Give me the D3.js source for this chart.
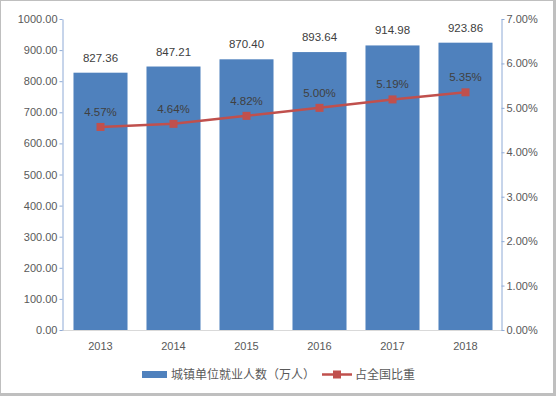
<!DOCTYPE html>
<html lang="zh">
<head>
<meta charset="UTF-8">
<script src="https://d3js.org/d3.v7.min.js"></script>
<title>城镇单位就业人数</title>
<style>
  body { margin: 0; background: #fff; }
  svg { display: block; }
</style>
</head>
<body>
<div id="chart"></div>
<script>
  // data
  var years = ["2013", "2014", "2015", "2016", "2017", "2018"];
  var employed = [827.36, 847.21, 870.40, 893.64, 914.98, 923.86];
  var share = [4.57, 4.64, 4.82, 5.00, 5.19, 5.35];
  var leftTicks = [0, 100, 200, 300, 400, 500, 600, 700, 800, 900, 1000];
  var rightTicks = [0, 1, 2, 3, 4, 5, 6, 7];
  var barName = "城镇单位就业人数（万人）";
  var lineName = "占全国比重";

  var W = 556, H = 396;
  var blue = "#4f81bd", red = "#c0504d", axisCol = "#8eaad6", txt = "#595959";
  var font = "'Liberation Sans', Arial, sans-serif";
  var cjk = "'Noto Sans CJK SC', sans-serif";

  var svg = d3.select("#chart").append("svg").attr("width", W).attr("height", H);

  // frame
  svg.append("rect").attr("x", 0).attr("y", 0).attr("width", W).attr("height", H).attr("fill", "#bfbfbf");
  svg.append("rect").attr("x", 1).attr("y", 1).attr("width", W - 4).attr("height", H - 4).attr("fill", "#fff");

  var x = d3.scaleBand().domain(years).range([64, 502]).paddingInner(0.26).paddingOuter(0.13);
  var yL = d3.scaleLinear().domain([0, 1000]).range([330, 19]);
  var yR = d3.scaleLinear().domain([0, 7]).range([330, 19]);

  // bottom baseline
  svg.append("line").attr("x1", 62).attr("x2", 502).attr("y1", 330.5).attr("y2", 330.5)
    .attr("stroke", "#d9d9d9");

  // bars
  svg.append("g").selectAll("rect").data(employed).join("rect")
    .attr("x", (d, i) => x(years[i]))
    .attr("width", x.bandwidth())
    .attr("y", d => yL(d))
    .attr("height", d => yL(0) - yL(d))
    .attr("fill", blue);

  // axes
  var axL = svg.append("g").attr("transform", "translate(62.5,0)")
    .call(d3.axisLeft(yL).tickValues(leftTicks).tickFormat(d3.format(".2f")).tickSize(3).tickSizeOuter(0));
  var axR = svg.append("g").attr("transform", "translate(501.5,0)")
    .call(d3.axisRight(yR).tickValues(rightTicks).tickFormat(d => d.toFixed(2) + "%").tickSize(3).tickSizeOuter(0));
  [axL, axR].forEach(function(a) {
    a.select(".domain").attr("stroke", axisCol);
    a.selectAll(".tick line").attr("stroke", axisCol);
    a.selectAll("text").attr("fill", txt).attr("font-family", font).attr("font-size", 11);
  });
  axL.selectAll("text").attr("x", -5);
  axR.selectAll("text").attr("x", 5);

  // x labels
  svg.append("g").selectAll("text").data(years).join("text")
    .attr("x", d => x(d) + x.bandwidth() / 2)
    .attr("y", 350)
    .attr("text-anchor", "middle")
    .attr("font-family", font).attr("font-size", 11).attr("fill", txt)
    .text(d => d);

  // bar value labels
  svg.append("g").selectAll("text").data(employed).join("text")
    .attr("x", (d, i) => x(years[i]) + x.bandwidth() / 2)
    .attr("y", d => yL(d) - 11)
    .attr("text-anchor", "middle")
    .attr("font-family", font).attr("font-size", 11.5).attr("fill", "#404040")
    .text(d => d.toFixed(2));

  // line
  var cx = (d, i) => x(years[i]) + x.bandwidth() / 2;
  var line = d3.line().x(cx).y(d => yR(d));
  svg.append("path").datum(share).attr("d", line)
    .attr("fill", "none").attr("stroke", red).attr("stroke-width", 2.5);
  svg.append("g").selectAll("rect").data(share).join("rect")
    .attr("x", (d, i) => cx(d, i) - 4).attr("y", d => yR(d) - 4)
    .attr("width", 8).attr("height", 8).attr("fill", red);

  svg.append("g").selectAll("text").data(share).join("text")
    .attr("x", cx)
    .attr("y", d => yR(d) - 11)
    .attr("text-anchor", "middle")
    .attr("font-family", font).attr("font-size", 11.5).attr("fill", "#404040")
    .text(d => d.toFixed(2) + "%");

  // legend
  var lg = svg.append("g");
  lg.append("rect").attr("x", 142).attr("y", 371).attr("width", 25).attr("height", 7).attr("fill", blue);
  lg.append("text").attr("x", 171).attr("y", 379).attr("font-family", cjk).attr("font-size", 12)
    .attr("fill", txt).text(barName);
  lg.append("line").attr("x1", 322).attr("x2", 352).attr("y1", 374.5).attr("y2", 374.5)
    .attr("stroke", red).attr("stroke-width", 2.5);
  lg.append("rect").attr("x", 333).attr("y", 370.5).attr("width", 8).attr("height", 8).attr("fill", red);
  lg.append("text").attr("x", 355).attr("y", 379).attr("font-family", cjk).attr("font-size", 12)
    .attr("fill", txt).text(lineName);
</script>
</body>
</html>
